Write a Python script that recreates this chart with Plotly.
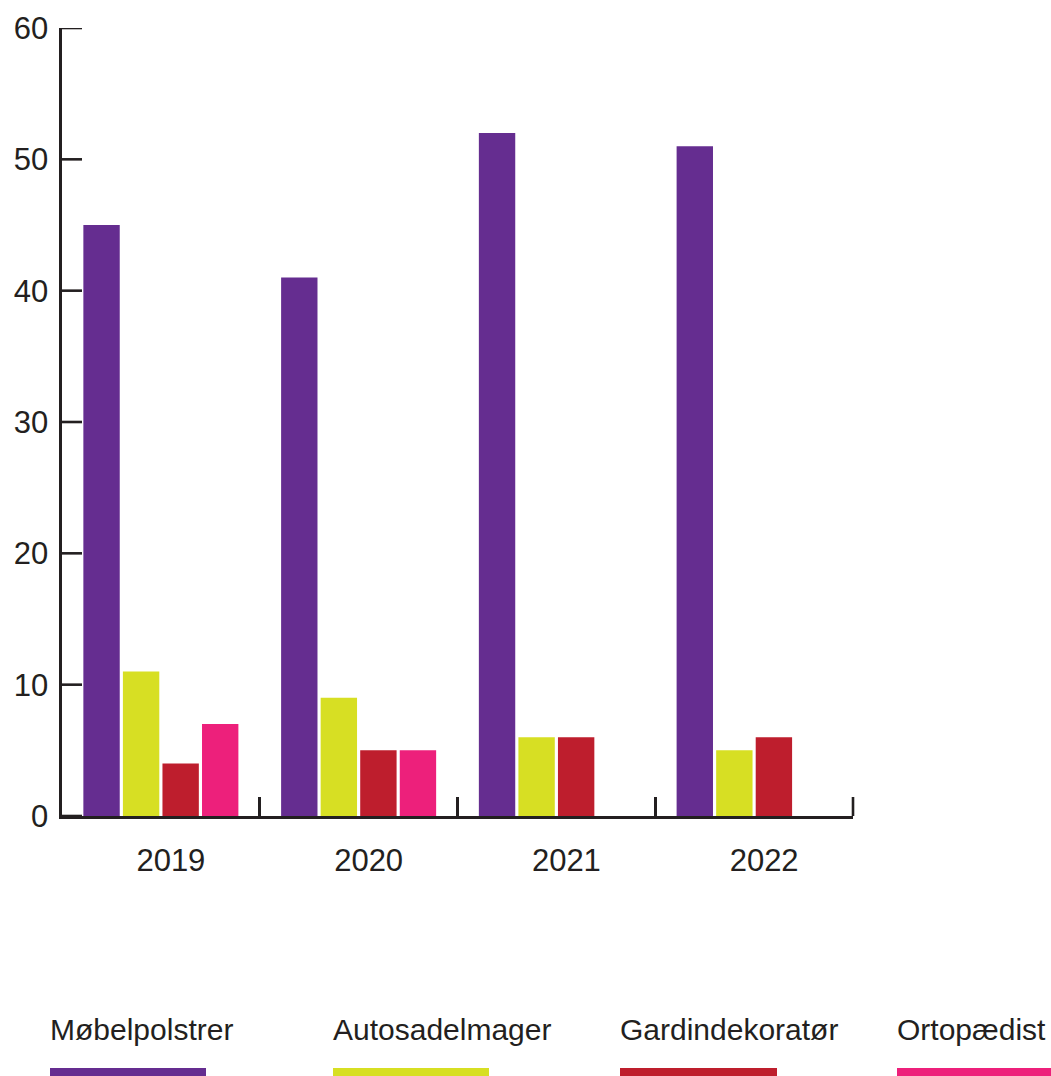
import plotly.graph_objects as go

years = ["2019", "2020", "2021", "2022"]
series_names = ["Møbelpolstrer", "Autosadelmager", "Gardindekoratør", "Ortopædist"]
mobelpolstrer = [45, 41, 52, 51]
autosadelmager = [11, 9, 6, 5]
gardindekorator = [4, 5, 6, 6]
ortopaedist = [7, 5, 0, 0]
colors = ["#652d90", "#d7df23", "#be1e2d", "#ed207b"]
y_ticks = [0, 10, 20, 30, 40, 50, 60]

values = [mobelpolstrer, autosadelmager, gardindekorator, ortopaedist]
ink = "#231f20"
font = "Liberation Sans, Arial, sans-serif"
lw_axis = 2.6

fig = go.Figure()
for name, vals, col in zip(series_names, values, colors):
    fig.add_trace(go.Bar(
        x=years, y=vals, name=name,
        marker=dict(color=col, line=dict(width=0)),
        showlegend=False,
    ))

W, H = 1051, 1076
L, T, R, B = 62, 28, 198, 260
pw, ph = W - L - R, H - T - B

def px_x(p):
    return (p - L) / pw

def px_y(p):
    return (H - B - p) / ph

# y-axis ticks (inside, pointing right)
for v in y_ticks:
    fig.add_shape(
        type="line", xref="paper", yref="y", x0=0, x1=20 / pw, y0=v, y1=v,
        line=dict(color=ink, width=lw_axis), layer="above",
    )
# right-end x tick
fig.add_shape(
    type="line", xref="paper", yref="paper", x0=1, x1=1, y0=0, y1=19 / ph,
    line=dict(color=ink, width=lw_axis), layer="above",
)

legend_x = [50, 333, 620, 897]
legend_w = [156, 156, 157, 154]
for name, col, lx, lw in zip(series_names, colors, legend_x, legend_w):
    fig.add_annotation(
        x=px_x(lx - 2), y=px_y(1029), xref="paper", yref="paper",
        text=name, showarrow=False, xanchor="left", yanchor="middle",
        font=dict(family=font, size=30, color=ink),
    )
    fig.add_shape(
        type="rect", xref="paper", yref="paper",
        x0=px_x(lx), x1=px_x(lx + lw), y0=px_y(1068), y1=px_y(1078),
        fillcolor=col, line=dict(width=0), layer="above",
    )

fig.update_layout(
    width=W, height=H,
    margin=dict(l=L, r=R, t=T, b=B, pad=0),
    paper_bgcolor="white", plot_bgcolor="white",
    barmode="group", bargap=0.2, bargroupgap=0.08,
    font=dict(family=font, color=ink),
    xaxis=dict(
        type="category", range=[-0.5, 3.5], showline=True, linecolor=ink, linewidth=lw_axis,
        ticks="inside", tickson="boundaries", ticklen=19, tickwidth=lw_axis, tickcolor=ink,
        showgrid=False, zeroline=False,
        tickfont=dict(family=font, size=31, color=ink),
        ticklabelstandoff=15, ticklabelshift=10,
    ),
    yaxis=dict(
        range=[0, 60], tickmode="array", tickvals=y_ticks, showline=True,
        linecolor=ink, linewidth=lw_axis,
        ticks="", showgrid=False, zeroline=False,
        tickfont=dict(family=font, size=31, color=ink),
        ticklabelstandoff=5,
    ),
)

fig.write_html(
    "out.html",
    config={"displayModeBar": False, "staticPlot": True},
    post_script="document.body.style.margin='0';document.body.style.overflow='hidden';",
)
